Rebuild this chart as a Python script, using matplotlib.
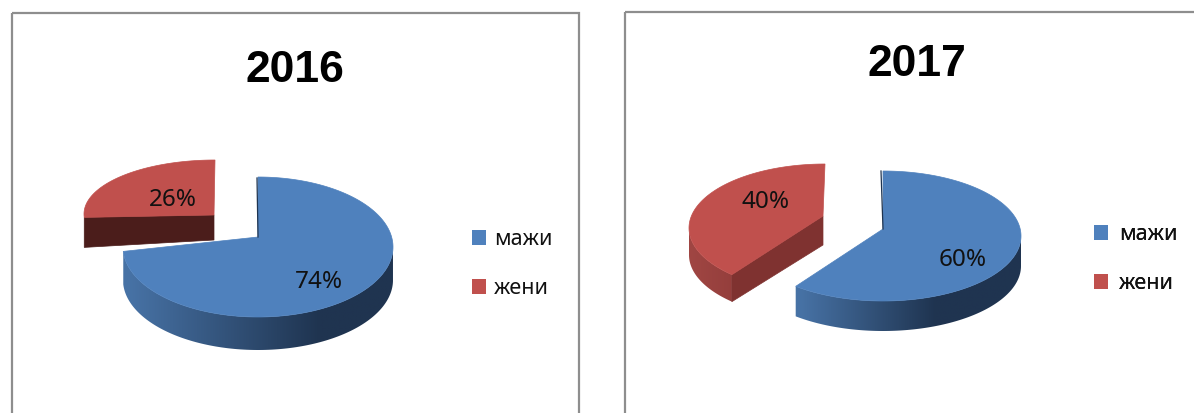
import matplotlib
matplotlib.use("Agg")
import matplotlib.pyplot as plt
from matplotlib.patches import Patch, Polygon, Rectangle
import numpy as np

plt.rcParams['font.family'] = ['Noto Sans', 'DejaVu Sans']

years = ["2016", "2017"]
categories = ["мажи", "жени"]
men = [74, 60]
women = [26, 40]

BLUE = "#4f81bd"
RED = "#c0504d"
DARK_BLUE = "#1f3450"
MID_BLUE = "#4772a5"
FRAME = "#8e8e8e"


def ring(cx, cy, rx, ry, a0, a1):
    # angles in degrees, clockwise from the top of the ellipse
    t = np.radians(np.linspace(a0, a1, 200))
    return cx + rx * np.sin(t), cy - ry * np.cos(t)


def draw_wall(ax, x, y, depth, left_col, right_col, x0, x1):
    # side of the slice: a gradient image clipped to the wall outline
    pts = list(zip(x, y)) + list(zip(x[::-1], y[::-1] + depth))
    clip = Polygon(pts, transform=ax.transData, facecolor="none", edgecolor="none")
    ax.add_patch(clip)
    c0 = np.array(matplotlib.colors.to_rgb(left_col))
    c1 = np.array(matplotlib.colors.to_rgb(right_col))
    left, right = x.min() - 1, x.max() + 1
    t = np.clip((np.linspace(left, right, 256) - x0) / (x1 - x0), 0, 1)
    grad = (c0 + (c1 - c0) * t[:, None])[None, :, :]
    im = ax.imshow(grad, extent=(left, right, y.max() + depth + 1, y.min() - 1),
                   aspect="auto", interpolation="bilinear", zorder=1)
    im.set_clip_path(clip)


def draw_face(ax, x, y, apex, color, z):
    pts = list(zip(x, y)) + [apex]
    ax.add_patch(Polygon(pts, facecolor=color, edgecolor=color, linewidth=0.5, zorder=z))


def draw_cut(ax, p0, p1, d0, d1, color):
    pts = [p0, p1, (p1[0], p1[1] + d1), (p0[0], p0[1] + d0)]
    ax.add_patch(Polygon(pts, facecolor=color, edgecolor=color, linewidth=0.5, zorder=1))


def draw_legend(ax, x, y, spacing, pad):
    handles = [Patch(facecolor=BLUE, label=categories[0]),
               Patch(facecolor=RED, label=categories[1])]
    ax.add_artist(ax.legend(handles=handles, loc="center left", frameon=False,
                            bbox_to_anchor=(x, y), bbox_transform=ax.transData,
                            fontsize=15.5, borderpad=0, borderaxespad=0,
                            handlelength=0.66, handleheight=0.7,
                            handletextpad=pad, labelspacing=spacing,
                            labelcolor="#111111"))


fig = plt.figure(figsize=(11.94, 4.13), dpi=100)
ax = fig.add_axes([0, 0, 1, 1])

# frames run off the bottom of the picture
ax.add_patch(Rectangle((11.5, 13), 567.5, 420, fill=False, edgecolor=FRAME, linewidth=1.6))
ax.add_patch(Rectangle((625, 11.5), 600, 420, fill=False, edgecolor=FRAME, linewidth=1.6))

# 2016
a = men[0] * 3.6
rx, ry = ring(215, 214, 131, 54, 360 - women[0] * 3.6, 360)
draw_cut(ax, (rx[0], ry[0]), (214, 215), 30, 25, "#4b1d1b")
draw_face(ax, rx, ry, (214, 215), RED, 2)

bx, by = ring(258, 247, 135, 70, 0, a)
keep = np.linspace(0, a, 200) >= 90
draw_wall(ax, bx[keep], by[keep], 33, MID_BLUE, DARK_BLUE, 130, 320)
draw_face(ax, bx, by, (258, 237), BLUE, 3)
ax.plot([257, 258], [178, 237], color=DARK_BLUE, linewidth=0.9, zorder=4)

# 2017, the angle spans are skewed a little by the perspective
a = men[1] * 3.6 * 1.015
start = 360 - women[1] * 3.6 * 0.95
rx, ry = ring(825, 228, 136, 64, start, 360)
keep = np.linspace(start, 360, 200) <= 270
draw_wall(ax, rx[keep], ry[keep], 27, "#a04643", "#943e3c", 689, 735)
draw_cut(ax, (rx[0], ry[0]), (823, 216), 27, 29, "#7f3230")
draw_face(ax, rx, ry, (823, 216), RED, 2)

bx, by = ring(883, 236, 138, 65, 0, a)
keep = np.linspace(0, a, 200) >= 90
draw_wall(ax, bx[keep], by[keep], 30, MID_BLUE, DARK_BLUE, 800, 935)
draw_face(ax, bx, by, (883, 229), BLUE, 3)
ax.plot([881, 883], [171, 229], color=DARK_BLUE, linewidth=0.9, zorder=4)

ax.set_xlim(0, 1194)
ax.set_ylim(413, 0)
ax.axis("off")

# titles and percent labels
title_font = dict(fontsize=32, fontweight="bold", family="Liberation Sans",
                  ha="center", va="center", color="black")
ax.text(295, 71, years[0], **title_font)
ax.text(917, 64, years[1], **title_font)
ax.text(173, 199.5, f"{women[0]}%", fontsize=17.5, ha="center", va="center", color="#111111", zorder=5)
ax.text(319, 281.5, f"{men[0]}%", fontsize=17.5, ha="center", va="center", color="#111111", zorder=5)
ax.text(766, 202.5, f"{women[1]}%", fontsize=17.5, ha="center", va="center", color="#111111", zorder=5)
ax.text(963, 259.5, f"{men[1]}%", fontsize=17.5, ha="center", va="center", color="#111111", zorder=5)

draw_legend(ax, 472, 264, 1.3, 0.35)
draw_legend(ax, 1094, 259, 1.3, 0.5)

fig.savefig("out.png", dpi=100)
